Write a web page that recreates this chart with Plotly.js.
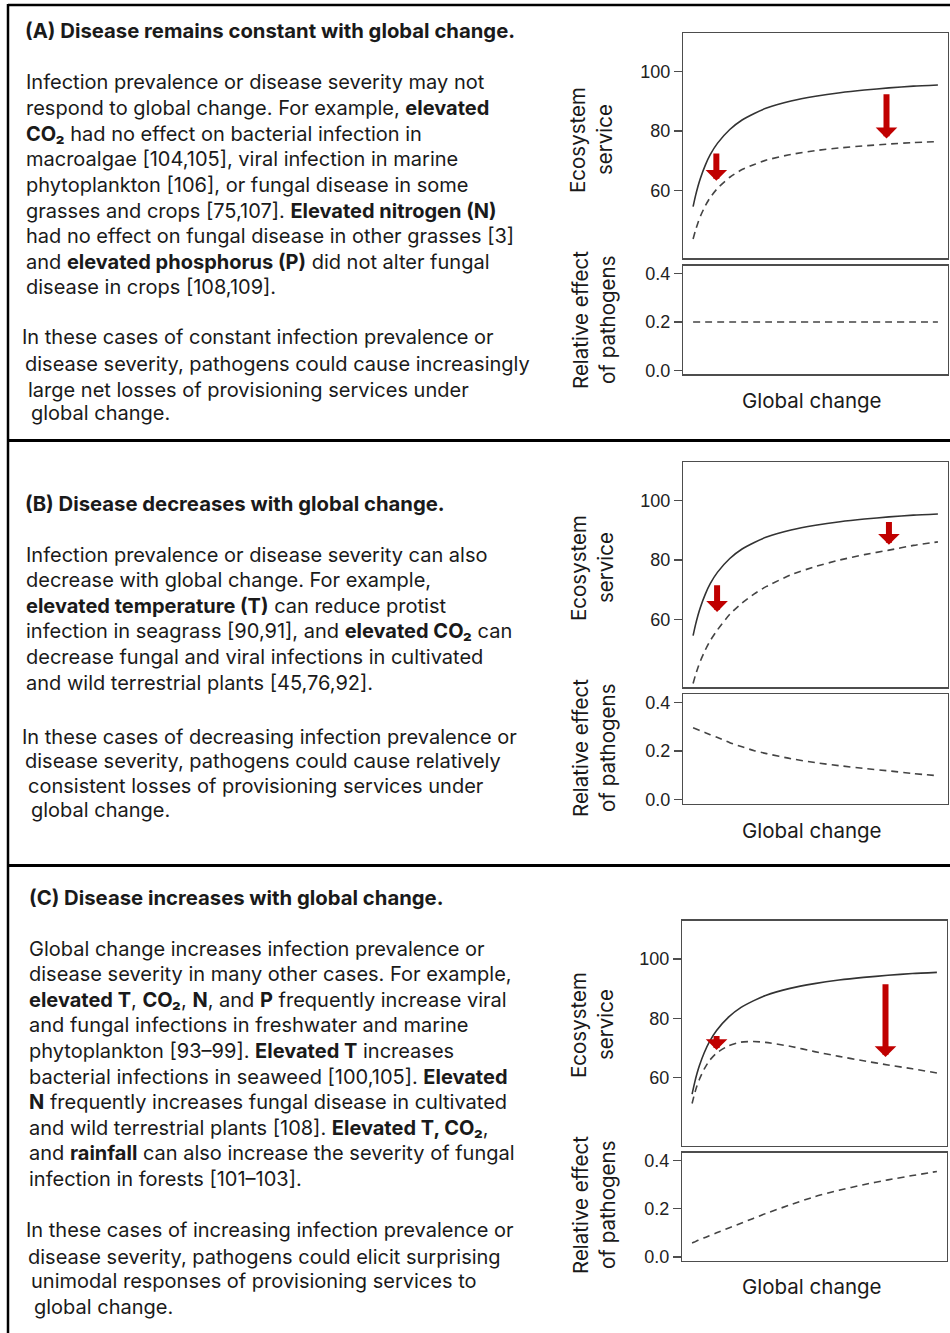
<!DOCTYPE html>
<html>
<head>
<meta charset="utf-8">
<script src="https://cdn.plot.ly/plotly-3.0.1.min.js"></script>
<style>html,body{margin:0;padding:0;background:#fff;}#chart{width:950px;height:1333px;}</style>
</head>
<body>
<div id="chart"></div>
<script>
// ---------------- DATA ----------------
const globalChange = [0, 0.01, 0.02, 0.03, 0.05, 0.07, 0.1, 0.15, 0.2, 0.25, 0.3, 0.4, 0.5, 0.6, 0.7, 0.8, 0.9, 1.0];
// ecosystem service without pathogens (solid, same in all panels)
const serviceNoPathogen = [54.5, 58.2, 61.4, 64.1, 68.5, 72.0, 75.9, 80.5, 83.7, 85.9, 87.7, 90.1, 91.7, 92.9, 93.8, 94.5, 95.1, 95.5];
// Panel A: constant disease
const serviceA = [43.6, 46.6, 49.1, 51.3, 54.8, 57.6, 60.7, 64.4, 67.0, 68.7, 70.2, 72.1, 73.4, 74.3, 75.0, 75.6, 76.1, 76.4];
const effectA = [0.2, 0.2, 0.2, 0.2, 0.2, 0.2, 0.2, 0.2, 0.2, 0.2, 0.2, 0.2, 0.2, 0.2, 0.2, 0.2, 0.2, 0.2];
// Panel B: decreasing disease
const serviceB = [38.4, 41.3, 43.8, 46.0, 49.7, 52.8, 56.5, 61.7, 65.5, 68.6, 71.1, 75.0, 77.8, 80.0, 81.8, 83.3, 84.9, 86.1];
const effectB = [0.295, 0.291, 0.287, 0.283, 0.275, 0.267, 0.255, 0.234, 0.217, 0.201, 0.189, 0.168, 0.152, 0.139, 0.128, 0.118, 0.107, 0.098];
// Panel C: increasing disease
const serviceC = [51.3, 54.6, 57.3, 59.5, 63.0, 65.7, 68.3, 70.8, 72.0, 72.2, 71.9, 70.6, 68.8, 67.2, 65.7, 64.3, 63.0, 61.6];
const effectC = [0.058, 0.062, 0.067, 0.071, 0.080, 0.088, 0.100, 0.120, 0.140, 0.160, 0.180, 0.216, 0.250, 0.277, 0.300, 0.320, 0.338, 0.355];
// red arrows: x position, start value, tip value
const arrowsAx = [0.095, 0.79];  const arrowsAFrom = [72.9, 92.9]; const arrowsATo = [63.2, 77.5];
const arrowsBx = [0.098, 0.80];  const arrowsBFrom = [72.0, 93.3]; const arrowsBTo = [62.5, 85.1];
const arrowsCx = [0.10, 0.79];   const arrowsCFrom = [74.6, 92.0]; const arrowsCTo = [69.3, 67.0];
const serviceTicks = [60, 80, 100];
const effectTicks = [0, 0.2, 0.4];
const effectTickText = ['0.0', '0.2', '0.4'];

const titles = [
  '(A) Disease remains constant with global change.',
  '(B) Disease decreases with global change.',
  '(C) Disease increases with global change.'
];
const bodyA = [
  'Infection prevalence or disease severity may not',
  'respond to global change. For example, <b>elevated</b>',
  '<b>CO₂</b> had no effect on bacterial infection in',
  'macroalgae [104,105], viral infection in marine',
  'phytoplankton [106], or fungal disease in some',
  'grasses and crops [75,107]. <b>Elevated nitrogen (N)</b>',
  'had no effect on fungal disease in other grasses [3]',
  'and <b>elevated phosphorus (P)</b> did not alter fungal',
  'disease in crops [108,109].'
];
const summaryA = [
  'In these cases of constant infection prevalence or',
  'disease severity, pathogens could cause increasingly',
  'large net losses of provisioning services under',
  'global change.'
];
const bodyB = [
  'Infection prevalence or disease severity can also',
  'decrease with global change. For example,',
  '<b>elevated temperature (T)</b> can reduce protist',
  'infection in seagrass [90,91], and <b>elevated CO₂</b> can',
  'decrease fungal and viral infections in cultivated',
  'and wild terrestrial plants [45,76,92].'
];
const summaryB = [
  'In these cases of decreasing infection prevalence or',
  'disease severity, pathogens could cause relatively',
  'consistent losses of provisioning services under',
  'global change.'
];
const bodyC = [
  'Global change increases infection prevalence or',
  'disease severity in many other cases. For example,',
  '<b>elevated T</b>, <b>CO₂</b>, <b>N</b>, and <b>P</b> frequently increase viral',
  'and fungal infections in freshwater and marine',
  'phytoplankton [93–99]. <b>Elevated T</b> increases',
  'bacterial infections in seaweed [100,105]. <b>Elevated</b>',
  '<b>N</b> frequently increases fungal disease in cultivated',
  'and wild terrestrial plants [108]. <b>Elevated T, CO₂</b>,',
  'and <b>rainfall</b> can also increase the severity of fungal',
  'infection in forests [101–103].'
];
const summaryC = [
  'In these cases of increasing infection prevalence or',
  'disease severity, pathogens could elicit surprising',
  'unimodal responses of provisioning services to',
  'global change.'
];
const yLabelTop = ['Ecosystem', 'service'];
const yLabelBottom = ['Relative effect', 'of pathogens'];
const xLabel = 'Global change';

// ---------------- LAYOUT HELPERS ----------------
const W = 950, H = 1333;
const px = v => v / W;
const py = v => 1 - v / H;
const TEXTFONT = 'Inter, "Open Sans", sans-serif';
const TEXTCOLOR = '#1a1a1a';
const TEXTSIZE = 20;
const TITLESIZE = 20.3;
const LABELSIZE = 20.5;

// panel geometry (pixels)
const panels = [
  {x0: 683.3, x1: 947.7, top: [33.3, 258.3], bot: [265.7, 374.3],
   svc: serviceA, eff: effectA, ax: arrowsAx, af: arrowsAFrom, at: arrowsATo,
   titleY: 30.5, titleX: 24, bodyX: 25, bodyY0: 82.5, body: bodyA,
   sumX: [21, 24, 27, 30], sumY: [337.5, 363.5, 389.5, 413.5], sum: summaryA,
   labTopY: 140, labBotY: 320, xlabY: 400},
  {x0: 683.3, x1: 947.7, top: [462.3, 687.3], bot: [694.3, 803.7],
   svc: serviceB, eff: effectB, ax: arrowsBx, af: arrowsBFrom, at: arrowsBTo,
   titleY: 503.5, titleX: 24, bodyX: 25, bodyY0: 554.5, body: bodyB,
   sumX: [21, 23.5, 27, 30], sumY: [736.5, 760.5, 785.5, 809.5], sum: summaryB,
   labTopY: 568, labBotY: 748, xlabY: 830},
  {x0: 682.3, x1: 946.7, top: [920.7, 1145.7], bot: [1152.7, 1261],
   svc: serviceC, eff: effectC, ax: arrowsCx, af: arrowsCFrom, at: arrowsCTo,
   titleY: 897.5, titleX: 28, bodyX: 28, bodyY0: 948.5, body: bodyC,
   sumX: [25, 27, 30, 33], sumY: [1229.5, 1256.5, 1280.5, 1306.5], sum: summaryC,
   labTopY: 1025, labBotY: 1205, xlabY: 1286}
];
const LINE = 25.6;

const traces = [];
const annotations = [];
const layout = {
  width: W, height: H,
  margin: {l: 0, r: 0, t: 0, b: 0},
  paper_bgcolor: '#fff', plot_bgcolor: '#fff',
  showlegend: false,
  shapes: [],
  annotations: annotations
};

const frame = {showline: true, mirror: true, linecolor: '#4d4d4d', linewidth: 1.3,
               showgrid: false, zeroline: false};
const tickFont = {family: '"Liberation Sans", Arial, sans-serif', size: 18, color: '#222'};

panels.forEach((p, i) => {
  const xa = 2 * i + 1, xb = 2 * i + 2;
  const xn = k => (k === 1 ? 'x' : 'x' + k);
  const yn = k => (k === 1 ? 'y' : 'y' + k);
  const axName = (k, t) => (k === 1 ? t + 'axis' : t + 'axis' + k);

  layout[axName(xa, 'x')] = Object.assign({}, frame, {domain: [px(p.x0), px(p.x1)], range: [-0.04, 1.04],
    showticklabels: false, ticks: '', anchor: yn(xa)});
  layout[axName(xa, 'y')] = Object.assign({}, frame, {domain: [py(p.top[1]), py(p.top[0])], range: [37.1, 112.9],
    tickvals: serviceTicks, ticks: 'outside', ticklen: 8, tickwidth: 1.2, tickcolor: '#4d4d4d',
    tickfont: tickFont, anchor: xn(xa)});
  layout[axName(xb, 'x')] = Object.assign({}, frame, {domain: [px(p.x0), px(p.x1)], range: [-0.04, 1.04],
    showticklabels: false, ticks: '', anchor: yn(xb)});
  layout[axName(xb, 'y')] = Object.assign({}, frame, {domain: [py(p.bot[1]), py(p.bot[0])], range: [-0.017, 0.433],
    tickvals: effectTicks, ticktext: effectTickText, ticks: 'outside', ticklen: 8, tickwidth: 1.2, tickcolor: '#4d4d4d',
    tickfont: tickFont, anchor: xn(xb)});

  traces.push({x: globalChange, y: serviceNoPathogen, xaxis: xn(xa), yaxis: yn(xa), type: 'scatter', mode: 'lines',
    line: {color: '#333', width: 1.6, shape: 'spline', smoothing: 0.6}, hoverinfo: 'skip'});
  traces.push({x: globalChange, y: p.svc, xaxis: xn(xa), yaxis: yn(xa), type: 'scatter', mode: 'lines',
    line: {color: '#444', width: 1.6, dash: '7px,5px', shape: 'spline', smoothing: 0.6}, hoverinfo: 'skip'});
  traces.push({x: globalChange, y: p.eff, xaxis: xn(xb), yaxis: yn(xb), type: 'scatter', mode: 'lines',
    line: {color: '#444', width: 1.6, dash: '7px,5px', shape: 'spline', smoothing: 0.6}, hoverinfo: 'skip'});

  p.ax.forEach((xv, j) => {
    annotations.push({xref: xn(xa), yref: yn(xa), axref: xn(xa), ayref: yn(xa),
      x: xv, y: p.at[j], ax: xv, ay: p.af[j], text: '', showarrow: true,
      arrowhead: 1, arrowsize: 0.6, arrowwidth: 6, arrowcolor: '#c00000', standoff: 0});
  });

  // text column
  annotations.push({xref: 'paper', yref: 'paper', x: px(p.titleX), y: py(p.titleY), xanchor: 'left', yanchor: 'middle',
    showarrow: false, borderpad: 0, text: '<b>' + titles[i] + '</b>', font: {family: TEXTFONT, size: TITLESIZE, color: TEXTCOLOR}});
  p.body.forEach((t, j) => {
    annotations.push({xref: 'paper', yref: 'paper', x: px(p.bodyX), y: py(p.bodyY0 + j * LINE), xanchor: 'left', yanchor: 'middle',
      showarrow: false, borderpad: 0, text: t, font: {family: TEXTFONT, size: TEXTSIZE, color: TEXTCOLOR}});
  });
  p.sum.forEach((t, j) => {
    annotations.push({xref: 'paper', yref: 'paper', x: px(p.sumX[j]), y: py(p.sumY[j]), xanchor: 'left', yanchor: 'middle',
      showarrow: false, borderpad: 0, text: t, font: {family: TEXTFONT, size: TEXTSIZE, color: TEXTCOLOR}});
  });

  // axis labels
  [578, 605].forEach((lx, j) => {
    annotations.push({xref: 'paper', yref: 'paper', x: px(lx), y: py(p.labTopY), xanchor: 'center', yanchor: 'middle',
      textangle: -90, showarrow: false, text: yLabelTop[j], font: {family: TEXTFONT, size: LABELSIZE, color: TEXTCOLOR}});
  });
  [580, 607].forEach((lx, j) => {
    annotations.push({xref: 'paper', yref: 'paper', x: px(lx), y: py(p.labBotY), xanchor: 'center', yanchor: 'middle',
      textangle: -90, showarrow: false, text: yLabelBottom[j], font: {family: TEXTFONT, size: LABELSIZE, color: TEXTCOLOR}});
  });
  annotations.push({xref: 'paper', yref: 'paper', x: px(811.5), y: py(p.xlabY), xanchor: 'center', yanchor: 'middle',
    showarrow: false, text: xLabel, font: {family: TEXTFONT, size: LABELSIZE, color: TEXTCOLOR}});
});

// frame lines
const lineShape = (x0, y0, x1, y1, w) => ({type: 'line', xref: 'paper', yref: 'paper',
  x0: px(x0), y0: py(y0), x1: px(x1), y1: py(y1), line: {color: '#000', width: w}});
layout.shapes.push(lineShape(8, 5, 950, 5, 2.5));
layout.shapes.push(lineShape(8, 4, 8, 1333, 2.5));
layout.shapes.push(lineShape(8, 440.5, 950, 440.5, 3));
layout.shapes.push(lineShape(8, 865.5, 950, 865.5, 3));

Plotly.newPlot('chart', traces, layout, {displayModeBar: false, staticPlot: true});
</script>
</body>
</html>
